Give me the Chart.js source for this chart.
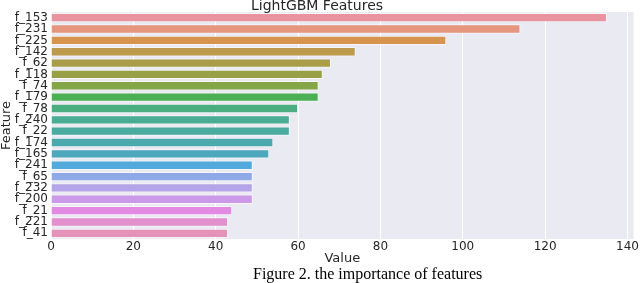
<!DOCTYPE html>
<html>
<head>
<meta charset="utf-8">
<script src="https://cdn.jsdelivr.net/npm/chart.js@4"></script>
<style>
  html, body { margin: 0; padding: 0; background: #fff; }
  #wrap { width: 640px; height: 283px; position: relative; }
</style>
</head>
<body>
<div id="wrap"><canvas id="featChart"></canvas></div>
<script>
const features = ['f_153', 'f_231', 'f_225', 'f_142', 'f_62', 'f_118', 'f_74', 'f_179', 'f_78', 'f_240',
  'f_22', 'f_174', 'f_165', 'f_241', 'f_65', 'f_232', 'f_200', 'f_21', 'f_221', 'f_41'];
const importance = [135, 114, 96, 74, 68, 66, 65, 65, 60, 58, 58, 54, 53, 49, 49, 49, 49, 44, 43, 43];
const barColors = ['#e8939f', '#e6957f', '#d7944f', '#bd9a4c', '#aa9d48', '#98a046', '#85a646', '#4bb053',
  '#4aae80', '#49ad93', '#4aab9f', '#4aa9aa', '#4ca9bd', '#51a9dc', '#8ea8e8', '#b3a5e8', '#cc99e8',
  '#e38be4', '#e38ecd', '#e592b8'];
const caption = 'Figure 2. the importance of features';

// grey plot background like seaborn darkgrid
const plotBg = {
  id: 'plotBg',
  beforeDraw(chart) {
    const { ctx, chartArea: a } = chart;
    ctx.save();
    ctx.fillStyle = '#eaeaf2';
    ctx.fillRect(a.left, a.top, a.right - a.left, a.bottom - a.top);
    ctx.restore();
  }
};

const captionText = {
  id: 'captionText',
  afterDraw(chart) {
    const ctx = chart.ctx;
    ctx.save();
    ctx.fillStyle = '#000';
    ctx.font = '16px "Liberation Serif", "Times New Roman", serif';
    ctx.textAlign = 'left';
    ctx.textBaseline = 'middle';
    ctx.fillText(caption, 253, 275);
    ctx.restore();
  }
};

const ctx = document.getElementById('featChart').getContext('2d');

const featChart = new Chart(ctx, {
  type: 'bar',
  data: {
    labels: features,
    datasets: [{
      label: 'Value',
      data: importance,
      backgroundColor: barColors,
      borderColor: 'rgba(255,255,255,0.55)',
      borderWidth: 1,
      barPercentage: 0.82,
      categoryPercentage: 1
    }]
  },
  options: {
    indexAxis: 'y',
    responsive: true,
    maintainAspectRatio: false,
    animation: false,
    layout: { padding: { top: 0, right: 6, bottom: 17, left: 0 } },
    plugins: {
      legend: { display: false },
      tooltip: { enabled: false },
      title: {
        display: true,
        text: 'LightGBM Features',
        color: '#262626',
        font: { family: 'DejaVu Sans', size: 14, weight: 'normal', lineHeight: '13px' },
        padding: { top: 0, bottom: -1 }
      }
    },
    scales: {
      x: {
        min: 0,
        max: 141.5,
        grid: { color: '#ffffff', lineWidth: 1, drawTicks: false },
        border: { display: false },
        ticks: {
          stepSize: 20,
          includeBounds: false,
          padding: 1,
          color: '#262626',
          font: { family: 'DejaVu Sans', size: 12 }
        },
        title: {
          display: true,
          text: 'Value',
          color: '#262626',
          font: { family: 'DejaVu Sans', size: 13 },
          padding: { top: 0, bottom: 0 }
        },
        afterFit(scale) { scale.height = 27; }
      },
      y: {
        grid: { display: false, drawTicks: false },
        border: { display: false },
        ticks: {
          autoSkip: false,
          padding: 3,
          color: '#262626',
          font: { family: 'DejaVu Sans', size: 12 }
        },
        title: {
          display: true,
          text: 'Feature',
          color: '#262626',
          font: { family: 'DejaVu Sans', size: 13, lineHeight: 1 },
          padding: { top: 0, bottom: 0 }
        },
        afterFit(scale) { scale.width = 51; }
      }
    }
  },
  plugins: [plotBg, captionText]
});
</script>
</body>
</html>
